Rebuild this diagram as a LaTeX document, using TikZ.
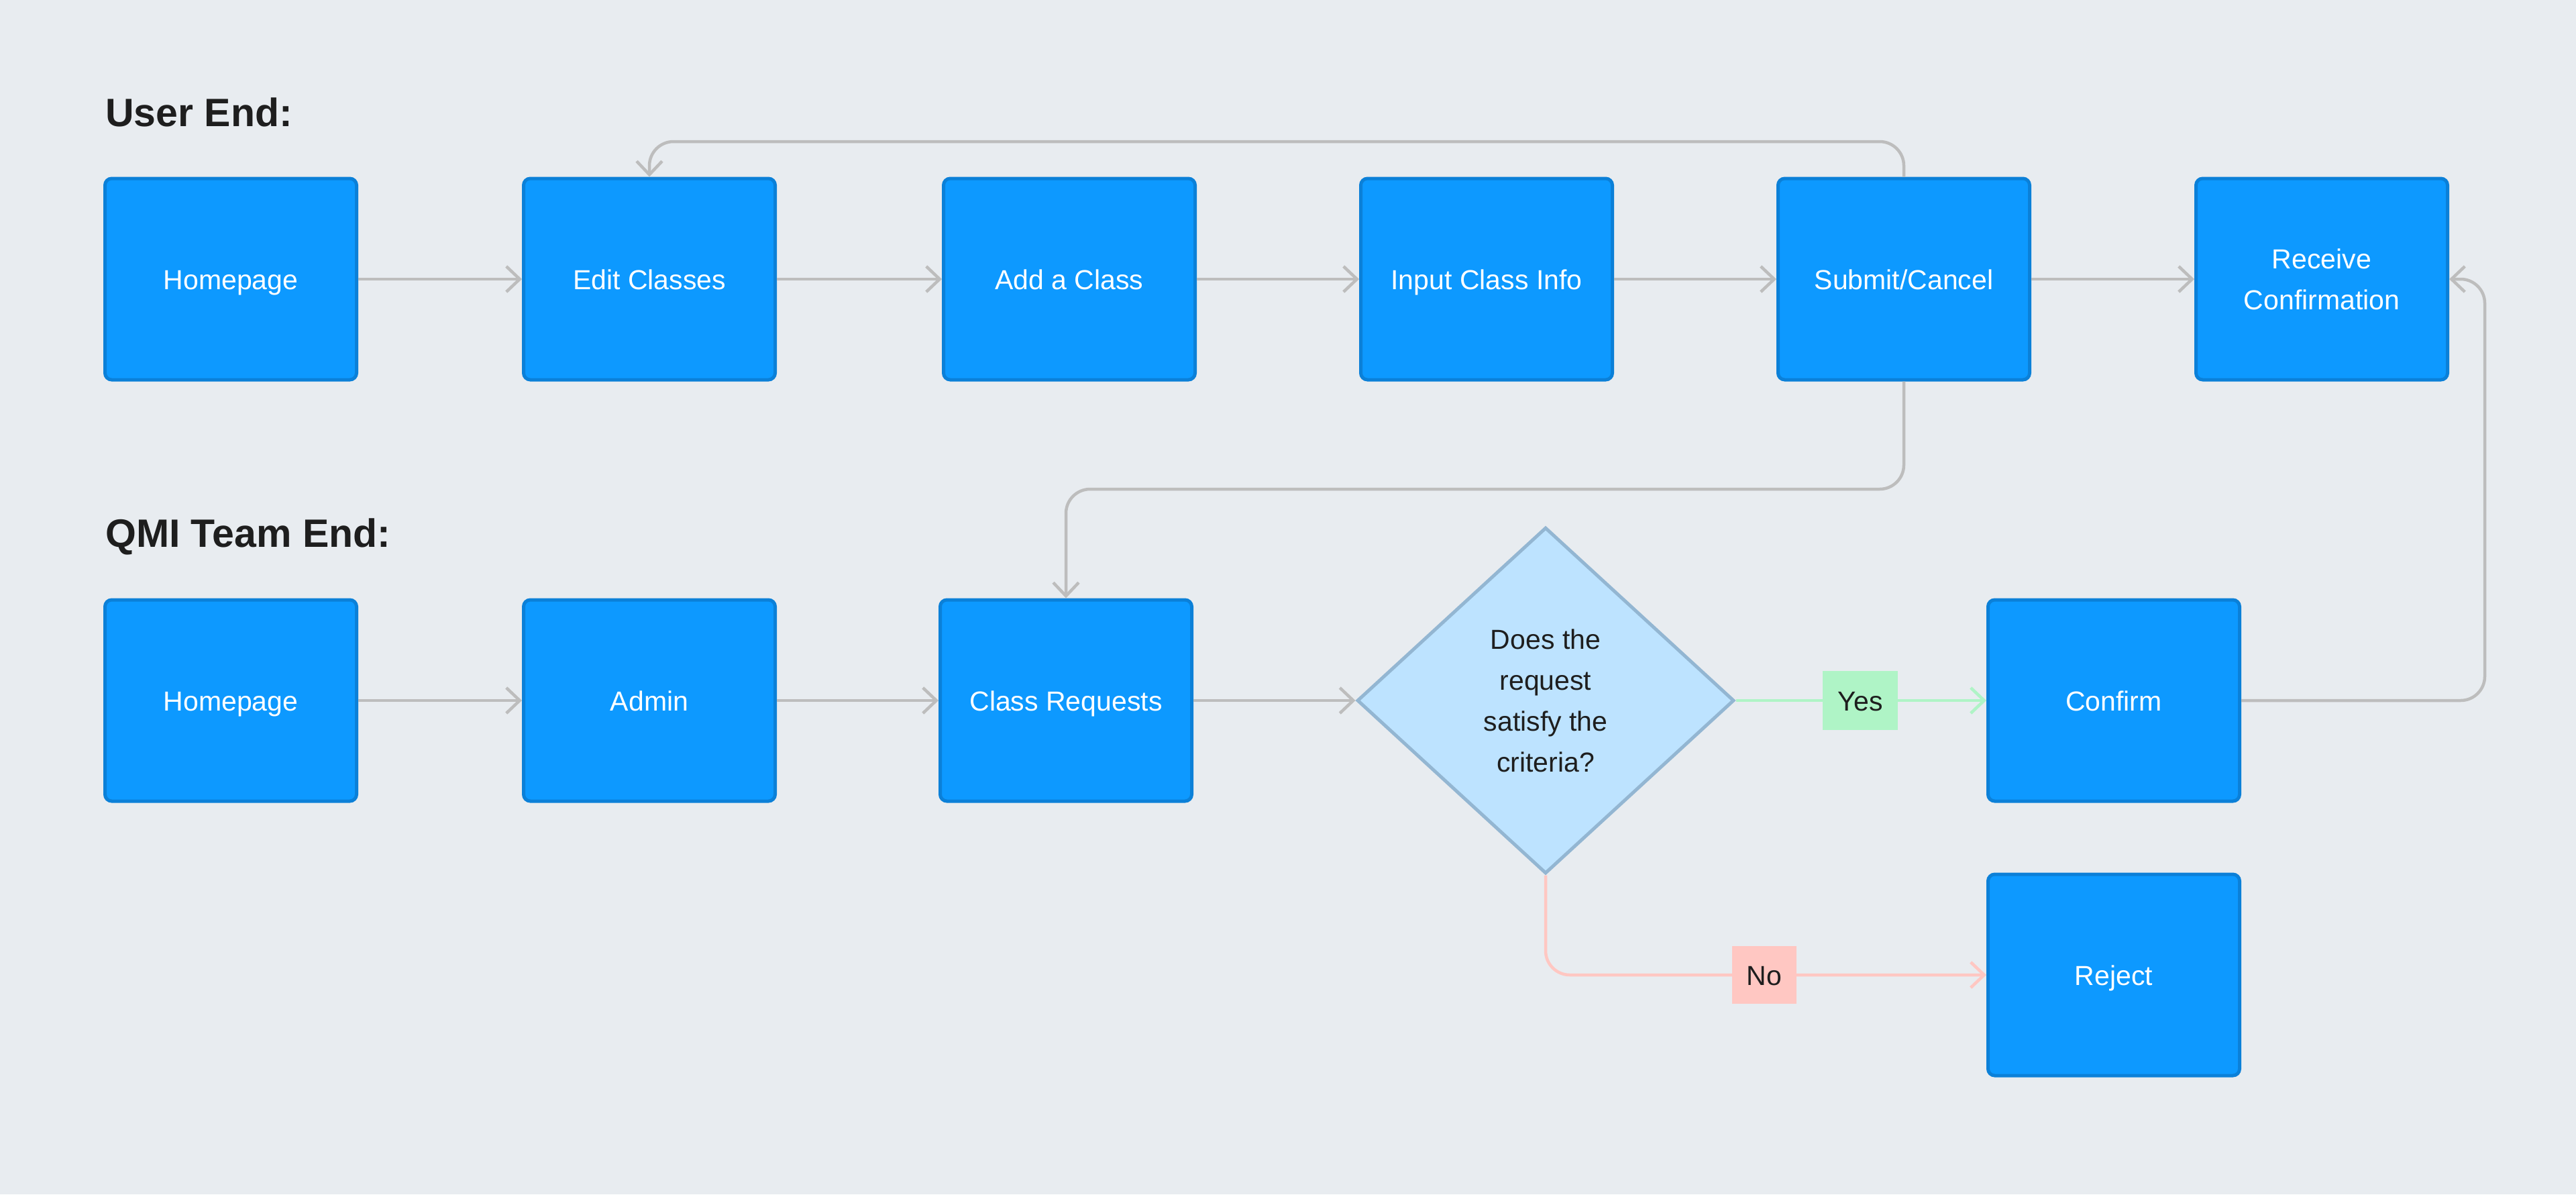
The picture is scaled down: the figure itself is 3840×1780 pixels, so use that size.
\documentclass[tikz,border=0pt]{standalone}
\usepackage{fontspec}
\setmainfont{Liberation Sans}
\usetikzlibrary{arrows.meta,shapes.geometric}
\definecolor{bg}{HTML}{E8ECF0}
\definecolor{boxfill}{HTML}{0D99FF}
\definecolor{boxline}{HTML}{0B80D8}
\definecolor{diafill}{HTML}{BDE3FF}
\definecolor{dialine}{HTML}{93B6D2}
\definecolor{connc}{HTML}{BDBDBD}
\definecolor{yesc}{HTML}{AFF4C6}
\definecolor{noc}{HTML}{FFC7C2}
\definecolor{ink}{HTML}{1E1E1E}
\begin{document}
\begin{tikzpicture}[x=1pt,y=-1pt,
  stepbox/.style={rectangle, rounded corners=10pt, fill=boxfill, draw=boxline, line width=5pt,
    minimum width=375pt, minimum height=300pt, inner sep=0pt, text=white,
    font=\fontsize{41}{61}\selectfont, align=center, text height=31pt, text depth=0pt},
  decision/.style={diamond, fill=diafill, draw=dialine, line width=5pt,
    minimum width=562pt, minimum height=516pt, inner sep=0pt, text=ink,
    font=\fontsize{41}{61}\selectfont, align=center},
  title/.style={anchor=base west, inner sep=0pt, text=ink, font=\fontsize{59}{70}\selectfont\bfseries},
  tag/.style={inner sep=0pt, text=ink, font=\fontsize{41}{50}\selectfont, text height=31pt, text depth=0pt},
  conn/.style={draw=connc, line width=4.5pt, rounded corners=36pt,
    -{Straight Barb[length=20pt, width=38pt, line width=4.5pt]}},
]
\useasboundingbox (0,0) rectangle (3840,1780);
\fill[bg] (0,0) rectangle (3840,1780);

\node[title] (t1) at (157,188) {User End:};
\node[title] (t2) at (157,815) {QMI Team End:};

% row 1
\node[stepbox] (h1)  at (344,416)  {Homepage};
\node[stepbox] (ed)  at (968,416)  {Edit Classes};
\node[stepbox] (add) at (1594,416) {Add a Class};
\node[stepbox] (inp) at (2216,416) {Input Class Info};
\node[stepbox] (sub) at (2838,416) {Submit/Cancel};
\node[stepbox, text height=, text depth=] (rec) at (3461,416) {Receive\\Confirmation};

% row 2
\node[stepbox] (h2)  at (344,1044)  {Homepage};
\node[stepbox] (adm) at (968,1044)  {Admin};
\node[stepbox] (req) at (1589,1044) {Class Requests};
\node[decision] (dec) at (2304,1044) {Does the\\request\\satisfy the\\criteria?};
\node[stepbox] (con) at (3151,1044) {Confirm};
\node[stepbox] (rej) at (3151,1453) {Reject};

\coordinate (topy) at (0,211);
\coordinate (midy) at (0,729);
\coordinate (rx) at (3704,0);

% row 1 connectors
\draw[conn] (h1.east) -- (ed.west);
\draw[conn] (ed.east) -- (add.west);
\draw[conn] (add.east) -- (inp.west);
\draw[conn] (inp.east) -- (sub.west);
\draw[conn] (sub.east) -- (rec.west);
\draw[conn] (sub.north) -- (sub.north |- topy) -- (ed.north |- topy) -- (ed.north);
\draw[conn] (sub.south) -- (sub.south |- midy) -- (req.north |- midy) -- (req.north);

% row 2 connectors
\draw[conn] (h2.east) -- (adm.west);
\draw[conn] (adm.east) -- (req.west);
\draw[conn] (req.east) -- (dec.west);
\draw[conn] (con.east) -- (rx |- con.east) -- (rx |- rec.east) -- (rec.east);
\draw[conn, draw=yesc, -{Straight Barb[length=20pt, width=38pt, line width=4.5pt, color=yesc]}] (dec.east) -- (con.west);
\draw[conn, draw=noc, -{Straight Barb[length=20pt, width=38pt, line width=4.5pt, color=noc]}] (dec.south) -- (dec.south |- rej.west) -- (rej.west);

\node[tag, fill=yesc, minimum width=112pt, minimum height=88pt] (yes) at (2773,1044) {Yes};
\node[tag, fill=noc, minimum width=96pt, minimum height=86pt] (no) at (2630,1453) {No};
\end{tikzpicture}
\end{document}
